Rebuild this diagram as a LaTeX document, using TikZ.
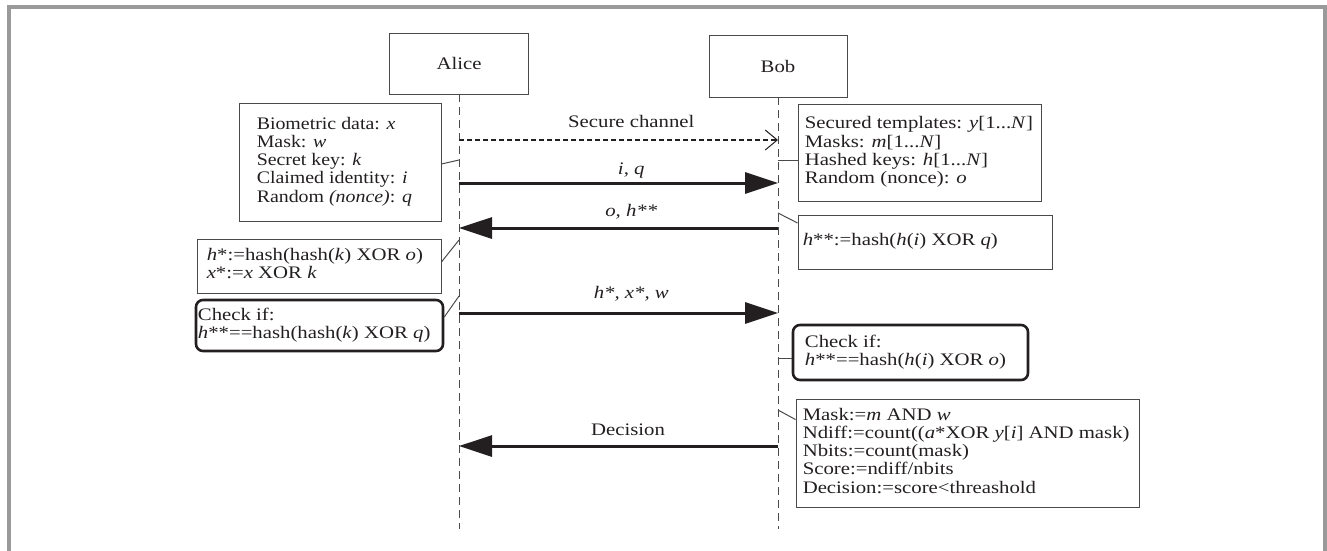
\documentclass[tikz,border=0pt]{standalone}
\usepackage{fontspec}
\usepackage{graphicx}
\setmainfont{Liberation Serif}
\usetikzlibrary{arrows.meta}
\definecolor{ink}{HTML}{231F20}
\definecolor{framegray}{HTML}{9A9A9A}
\definecolor{linegray}{HTML}{4A4A4A}
\newcommand{\stretchtxt}[1]{\scalebox{1.18}[1]{\begin{tabular}{@{}l@{}}#1\end{tabular}}}
\newcommand{\stretchone}[1]{\scalebox{1.18}[1]{#1}}
\begin{document}
\begin{tikzpicture}[x=1pt,y=-1pt,
  font=\fontsize{17.6}{18.3}\selectfont,
  box/.style={draw=linegray, line width=0.9pt, inner sep=0pt, text=ink},
  rbox/.style={draw=ink, line width=2.6pt, rounded corners=7pt, inner sep=0pt},
  txt/.style={anchor=west, inner sep=0pt, text=ink},
  life/.style={draw=linegray, line width=1pt, dash pattern=on 8pt off 5pt},
  conn/.style={draw=linegray, line width=1pt},
  msg/.style={draw=ink, line width=3pt, -{Triangle[length=33pt,width=21pt]}},
  sec/.style={draw=ink, line width=2.5pt, dash pattern=on 5pt off 3pt,
    -{Straight Barb[length=12pt,width=20pt,line width=1pt]}},
  lbl/.style={anchor=base, inner sep=0pt, text=ink}]
\useasboundingbox (0,0) rectangle (1327,550);
% frame
\draw[framegray, line width=4pt] (8.5,552) -- (8.5,7) -- (1325,7) -- (1325,552);

% actors
\node[box, minimum width=139pt, minimum height=61pt] (alice) at (459,63.5) {\raisebox{-3pt}{\stretchone{Alice}}};
\node[box, minimum width=138pt, minimum height=62pt] (bob) at (778,66) {\raisebox{-3pt}{\stretchone{Bob}}};
\coordinate (aend) at (459,529);
\coordinate (bend) at (778,529);
\draw[life] (alice.south) -- (aend);
\draw[life] (bob.south) -- (bend);

% lifeline points
\coordinate (a1) at (459,140); \coordinate (b1) at (778,140);
\coordinate (a2) at (459,183); \coordinate (b2) at (778,183);
\coordinate (a3) at (459,228); \coordinate (b3) at (778,228);
\coordinate (a4) at (459,313); \coordinate (b4) at (778,313);
\coordinate (a5) at (459,446); \coordinate (b5) at (778,446);
\coordinate (ac1) at (459,160); \coordinate (bc1) at (778,160);
\coordinate (ac2) at (459,240); \coordinate (bc2) at (778,213);
\coordinate (ac3) at (459,296); \coordinate (bc3) at (778,358);
\coordinate (bc4) at (778,410);

% messages
\draw[sec] (a1) -- (b1) node[lbl, pos=.54, yshift=13pt] (m1) {\stretchone{Secure channel}};
\draw[msg] (a2) -- (b2) node[lbl, pos=.54, yshift=9pt] (m2) {\stretchone{\itshape i, q}};
\draw[msg] (b3) -- (a3) node[lbl, pos=.46, yshift=12pt] (m3) {\stretchone{\itshape o, h**}};
\draw[msg] (a4) -- (b4) node[lbl, pos=.54, yshift=15pt] (m4) {\stretchone{\itshape h*, x*, w}};
\draw[msg] (b5) -- (a5) node[lbl, pos=.47, yshift=11pt] (m5) {\stretchone{Decision}};

% Alice side boxes
\node[box, minimum width=202pt, minimum height=118pt] (ainfo) at (340,162) {};
\node[txt] (ainfoT) at ([xshift=18pt]ainfo.west)
  {\scalebox{1.13}[1]{\begin{tabular}{@{}l@{}}Biometric data: \textit{x}\\Mask: \textit{w}\\Secret key: \textit{k}\\Claimed identity: \textit{i}\\Random \textit{(nonce)}: \textit{q}\end{tabular}}};
\draw[conn] ([yshift=-2pt]ainfo.east) -- (ac1);

\node[box, minimum width=244pt, minimum height=54pt] (ah) at (319,266) {};
\node[txt] (ahT) at ([xshift=10pt]ah.west)
  {\stretchtxt{\textit{h}*:=hash(hash(\textit{k}) XOR \textit{o})\\\textit{x}*:=\textit{x} XOR \textit{k}}};
\draw[conn] ([yshift=4pt]ah.east) -- (ac2);

\node[rbox, minimum width=247pt, minimum height=51pt] (acheck) at (319.5,325.5) {};
\node[txt] (acheckT) at ([xshift=3pt]acheck.west)
  {\stretchtxt{Check if:\\\textit{h}**==hash(hash(\textit{k}) XOR \textit{q})}};
\draw[conn] ([yshift=8.5pt]acheck.east) -- (ac3);

% Bob side boxes
\node[box, minimum width=243pt, minimum height=97pt] (binfo) at (919.5,152.5) {};
\node[txt] (binfoT) at ([xshift=7pt]binfo.west)
  {\stretchtxt{Secured templates: \textit{y}[1...\textit{N}]\\Masks: \textit{m}[1...\textit{N}]\\Hashed keys: \textit{h}[1...\textit{N}]\\Random (nonce): \textit{o}}};
\draw[conn] (bc1) -- (bc1 -| binfo.west);

\node[box, minimum width=254pt, minimum height=54pt] (bh) at (925,242) {};
\node[txt] (bhT) at ([xshift=5pt]bh.west)
  {\stretchtxt{\textit{h}**:=hash(\textit{h}(\textit{i}) XOR \textit{q})}};
\draw[conn] (bc2) -- ([yshift=19pt]bh.west);

\node[rbox, minimum width=235pt, minimum height=55pt] (bcheck) at (910.5,352.5) {};
\node[txt] (bcheckT) at ([xshift=13pt]bcheck.west)
  {\stretchtxt{Check if:\\\textit{h}**==hash(\textit{h}(\textit{i}) XOR \textit{o})}};
\draw[conn] (bc3) -- (bc3 -| bcheck.west);

\node[box, minimum width=343pt, minimum height=108pt] (dec) at (967.5,453) {};
\node[txt] (decT) at ([xshift=7pt]dec.west)
  {\stretchtxt{Mask:=\textit{m} AND \textit{w}\\Ndiff:=count((\textit{a}*XOR \textit{y}[\textit{i}] AND mask)\\Nbits:=count(mask)\\Score:=ndiff/nbits\\Decision:=score<threashold}};
\draw[conn] (bc4) -- ([yshift=-21pt]dec.north west);
\end{tikzpicture}
\end{document}
